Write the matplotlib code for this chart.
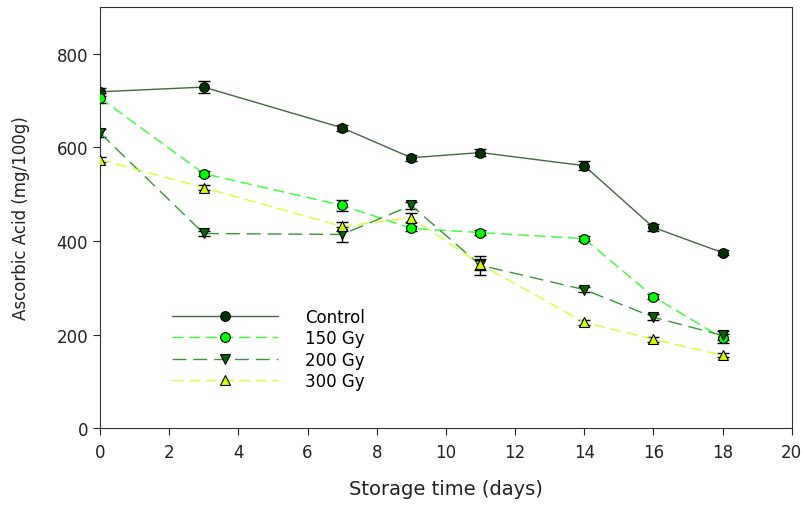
import matplotlib
matplotlib.use("Agg")
import matplotlib.pyplot as plt

plt.rcParams['font.family'] = ['DejaVu Sans']

days = [0, 3, 7, 9, 11, 14, 16, 18]

control = [719, 729, 642, 578, 589, 561, 429, 375]
gy150 = [706, 544, 476, 427, 418, 405, 281, 192]
gy200 = [631, 416, 414, 476, 348, 296, 237, 198]
gy300 = [574, 514, 431, 450, 350, 226, 190, 156]

err_control = [8, 12, 6, 6, 8, 9, 8, 6]
err_150 = [10, 6, 12, 6, 5, 6, 6, 10]
err_200 = [8, 6, 16, 8, 20, 6, 6, 10]
err_300 = [6, 6, 10, 10, 12, 6, 5, 5]

labels = ["Control", "150 Gy", "200 Gy", "300 Gy"]

fig = plt.figure(figsize=(8.03, 5.06), dpi=100)
ax = fig.add_axes([0.1245, 0.152, 0.8615, 0.832])

series = [
    (control, err_control, 'o', '#003300', '#3d6b3d', '-'),
    (gy150, err_150, 'o', '#00ff00', '#33ff33', (0, (8, 4))),
    (gy200, err_200, 'v', '#006600', '#339933', (0, (10, 5))),
    (gy300, err_300, '^', '#ccff00', '#d4ff33', (0, (8, 4))),
]

for (vals, errs, mk, mcol, lcol, ls), lab in zip(series, labels):
    ax.errorbar(days, vals, yerr=errs, fmt='none', ecolor='black',
                elinewidth=1, capsize=4, capthick=1, zorder=3)
    ax.plot(days, vals, color=lcol, linestyle=ls, linewidth=1,
            marker=mk, markersize=7, markerfacecolor=mcol,
            markeredgecolor='black', markeredgewidth=0.8, label=lab, zorder=4)

ax.set_xlim(0, 20)
ax.set_ylim(0, 900)
ax.set_xticks(range(0, 21, 2))
ax.set_yticks([0, 200, 400, 600, 800])
ax.tick_params(direction='out', length=5, labelsize=12, colors='#222222')
ax.tick_params(axis='x', pad=6)
for s in ax.spines.values():
    s.set_color('#333333')

ax.set_xlabel("Storage time (days)", fontsize=14, color='#222222', labelpad=13)
ax.set_ylabel("Ascorbic Acid (mg/100g)", fontsize=12, color='#222222', labelpad=19)

ax.legend(loc='upper left', bbox_to_anchor=(0.082, 0.321), frameon=False,
          handlelength=6.4, fontsize=12, labelspacing=0.2, handletextpad=1.6)

fig.savefig("out.png", dpi=100)
